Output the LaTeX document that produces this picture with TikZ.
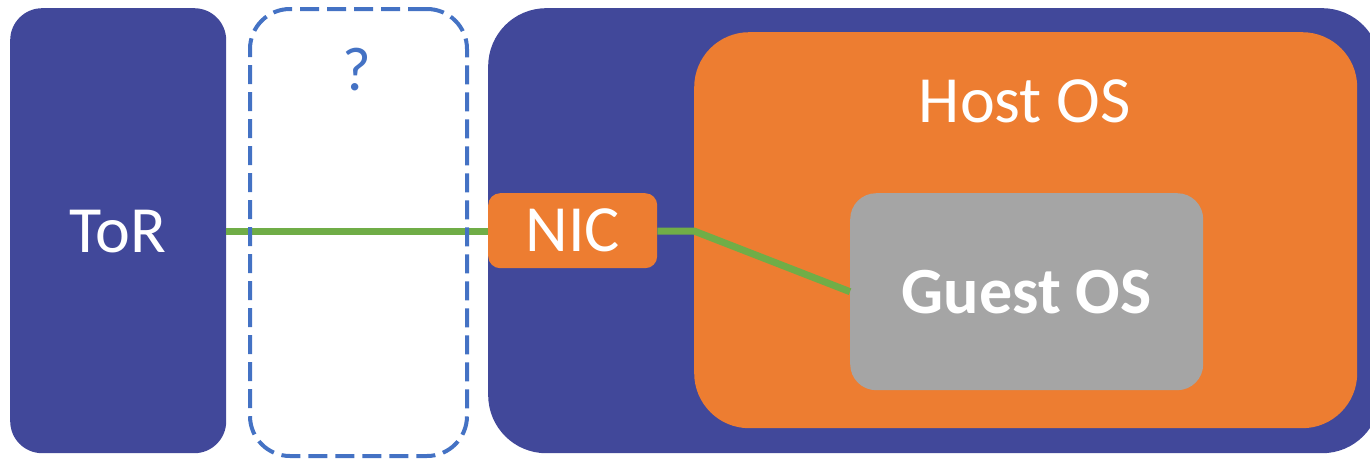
\documentclass[tikz,border=0pt]{standalone}
\usepackage{fontspec}
\setmainfont{Carlito}
\definecolor{navy}{HTML}{41489A}
\definecolor{hostorange}{HTML}{ED7D31}
\definecolor{guestgray}{HTML}{A5A5A5}
\definecolor{linkgreen}{HTML}{70AD47}
\definecolor{dashblue}{HTML}{4472C4}
\tikzset{
  panel/.style={draw=none, inner sep=0pt, anchor=north west},
  label text/.style={text=white, inner sep=0pt, font=\fontsize{66}{70}\selectfont},
  link/.style={draw=linkgreen, line width=7pt},
}
\begin{document}
\begin{tikzpicture}[x=1pt,y=-1pt]
\useasboundingbox (0,0) rectangle (1370,458);
% server chassis (runs off the right edge)
\node[panel, fill=navy, rounded corners=58pt, minimum width=892pt, minimum height=445pt] (server) at (488,8) {};
% host operating system
\node[panel, fill=hostorange, rounded corners=55pt, minimum width=663pt, minimum height=396pt] (host) at (694,32) {};
\node[label text] (hosttxt) at (1025,101) {Host OS};
% guest operating system
\node[panel, fill=guestgray, rounded corners=26pt, minimum width=353pt, minimum height=197pt] (guest) at (850,193) {};
\node[label text, font=\fontsize{66}{70}\selectfont\bfseries] (guesttxt) at (guest.center) {Guest OS};
% top-of-rack switch
\node[panel, fill=navy, rounded corners=32pt, minimum width=216pt, minimum height=445pt] (tor) at (10,8) {};
\node[label text] (tortxt) at (118,232) {ToR};
% network interface card
\node[panel, fill=hostorange, rounded corners=12pt, minimum width=169pt, minimum height=75pt] (nic) at (488,193) {};
\node[label text] (nictxt) at (nic.center) {NIC};
% links
\coordinate (bend) at (694,231);
\draw[link] (tor.east |- 0,231) -- (nic.west |- 0,231);
\draw[link] (nic.east |- 0,231) -- (bend) -- (guest.west);
% unknown middle element
\node[panel, draw=dashblue, line width=4pt, dash pattern=on 19pt off 8pt, rounded corners=40pt, minimum width=217pt, minimum height=447pt] (unknown) at (248,7) {};
\node[text=dashblue, inner sep=0pt, font=\fontsize{62}{66}\selectfont] (q) at (357,70) {?};
\end{tikzpicture}
\end{document}
